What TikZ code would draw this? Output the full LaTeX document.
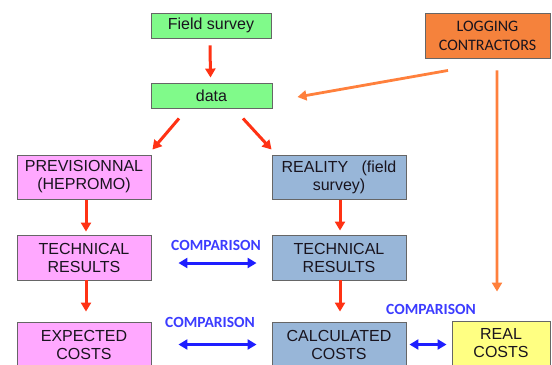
\documentclass[tikz,border=0pt]{standalone}
\usepackage{fontspec}
\setmainfont{Liberation Sans}
\newfontfamily\calib{Carlito}
\usetikzlibrary{arrows.meta,shadows}
\definecolor{boxgreen}{RGB}{128,250,138}
\definecolor{boxpink}{RGB}{255,168,255}
\definecolor{boxblue}{RGB}{152,182,216}
\definecolor{boxorange}{RGB}{245,130,60}
\definecolor{boxyellow}{RGB}{255,255,130}
\definecolor{redarr}{RGB}{255,50,20}
\definecolor{orarr}{RGB}{255,128,60}
\definecolor{bluearr}{RGB}{30,30,255}
\definecolor{cmptext}{RGB}{60,60,255}
\definecolor{txt}{RGB}{25,20,30}
\begin{document}
\begin{tikzpicture}[x=1bp,y=-1bp,
  boxstyle/.style={draw=black!60, line width=0.9bp, align=center, inner sep=0pt,
    text=txt, font=\fontsize{16bp}{18bp}\selectfont,
    drop shadow={shadow xshift=1.2bp, shadow yshift=-1.2bp, fill=black, opacity=0.35}},
  redarrow/.style={draw=redarr, line width=3bp, -{Triangle[width=10bp,length=9bp]}},
  orarrow/.style={draw=orarr, line width=2.8bp, -{Triangle[width=10bp,length=9bp]}},
  bluearrow/.style={draw=bluearr, line width=3bp, {Triangle[width=10bp,length=9bp]}-{Triangle[width=10bp,length=9bp]}},
  cmplabel/.style={text=cmptext, font=\calib\bfseries\fontsize{15.5bp}{18bp}\selectfont, inner sep=0pt}
]
\useasboundingbox (0,0) rectangle (552,364);
\clip (0,0) rectangle (552,364);

% top row
\node[boxstyle, fill=boxgreen, minimum width=120bp, minimum height=25bp] (fs) at (211,25.5) {Field survey};
\node[boxstyle, fill=boxgreen, minimum width=121bp, minimum height=25bp] (data) at (211.5,95.5) {data};
\node[boxstyle, fill=boxorange, minimum width=125bp, minimum height=45bp,
      font=\calib\fontsize{16bp}{19bp}\selectfont] (log) at (487.5,35.5) {LOGGING\\CONTRACTORS};

% second row
\node[boxstyle, fill=boxpink, minimum width=134bp, minimum height=44bp] (prev) at (84,177) {PREVISIONNAL\\(HEPROMO)};
\node[boxstyle, fill=boxblue, minimum width=134bp, minimum height=44bp] (real) at (339,177) {REALITY\ \ \ (field\\survey)};

% third row
\node[boxstyle, fill=boxpink, minimum width=134bp, minimum height=45bp] (tl) at (84,257.5) {TECHNICAL\\RESULTS};
\node[boxstyle, fill=boxblue, minimum width=134bp, minimum height=45bp] (tr) at (339,257.5) {TECHNICAL\\RESULTS};

% bottom row
\node[boxstyle, fill=boxpink, minimum width=134bp, minimum height=45bp] (el) at (84,344.5) {EXPECTED\\COSTS};
\node[boxstyle, fill=boxblue, minimum width=134bp, minimum height=45bp] (cr) at (339,344.5) {CALCULATED\\COSTS};
\node[boxstyle, fill=boxyellow, minimum width=98bp, minimum height=45bp] (rc) at (501,343.5) {REAL\\COSTS};

% red arrows
\draw[redarrow] ([xshift=-1bp,yshift=-7bp]fs.south) -- ([xshift=-1bp,yshift=5bp]data.north);
\draw[redarrow] ([xshift=-32.5bp,yshift=-10bp]data.south) -- ([xshift=1bp,yshift=5bp]prev.north east);
\draw[redarrow] ([xshift=31.5bp,yshift=-10bp]data.south) -- ([yshift=5bp]real.north west);
\draw[redarrow] ([xshift=2bp,yshift=-1bp]prev.south) -- ([xshift=2bp,yshift=3bp]tl.north);
\draw[redarrow] ([xshift=2bp]tl.south) -- ([xshift=2bp,yshift=10bp]el.north);
\draw[redarrow] ([xshift=1bp,yshift=-1bp]real.south) -- ([xshift=1bp,yshift=4bp]tr.north);
\draw[redarrow] ([xshift=1bp]tr.south) -- ([xshift=1bp,yshift=10bp]cr.north);

% orange arrows
\draw[orarrow] ([xshift=-39.5bp,yshift=-12bp]log.south) -- ([xshift=25bp,yshift=-1.5bp]data.east);
\draw[orarrow] ([xshift=9.5bp,yshift=-12bp]log.south) -- ([xshift=-4bp,yshift=29bp]rc.north);

% comparisons
\draw[bluearrow] ([xshift=27bp,yshift=-5.5bp]tl.east) -- ([xshift=-15bp,yshift=-5.5bp]tr.west);
\draw[bluearrow] ([xshift=27bp]el.east) -- ([xshift=-15bp]cr.west);
\draw[bluearrow] ([xshift=3bp]cr.east) -- ([xshift=-5bp,yshift=-1bp]rc.west);

\node[cmplabel] (c1) at (216,245) {COMPARISON};
\node[cmplabel] (c2) at (210,322) {COMPARISON};
\node[cmplabel] (c3) at (431,309) {COMPARISON};
\end{tikzpicture}
\end{document}
